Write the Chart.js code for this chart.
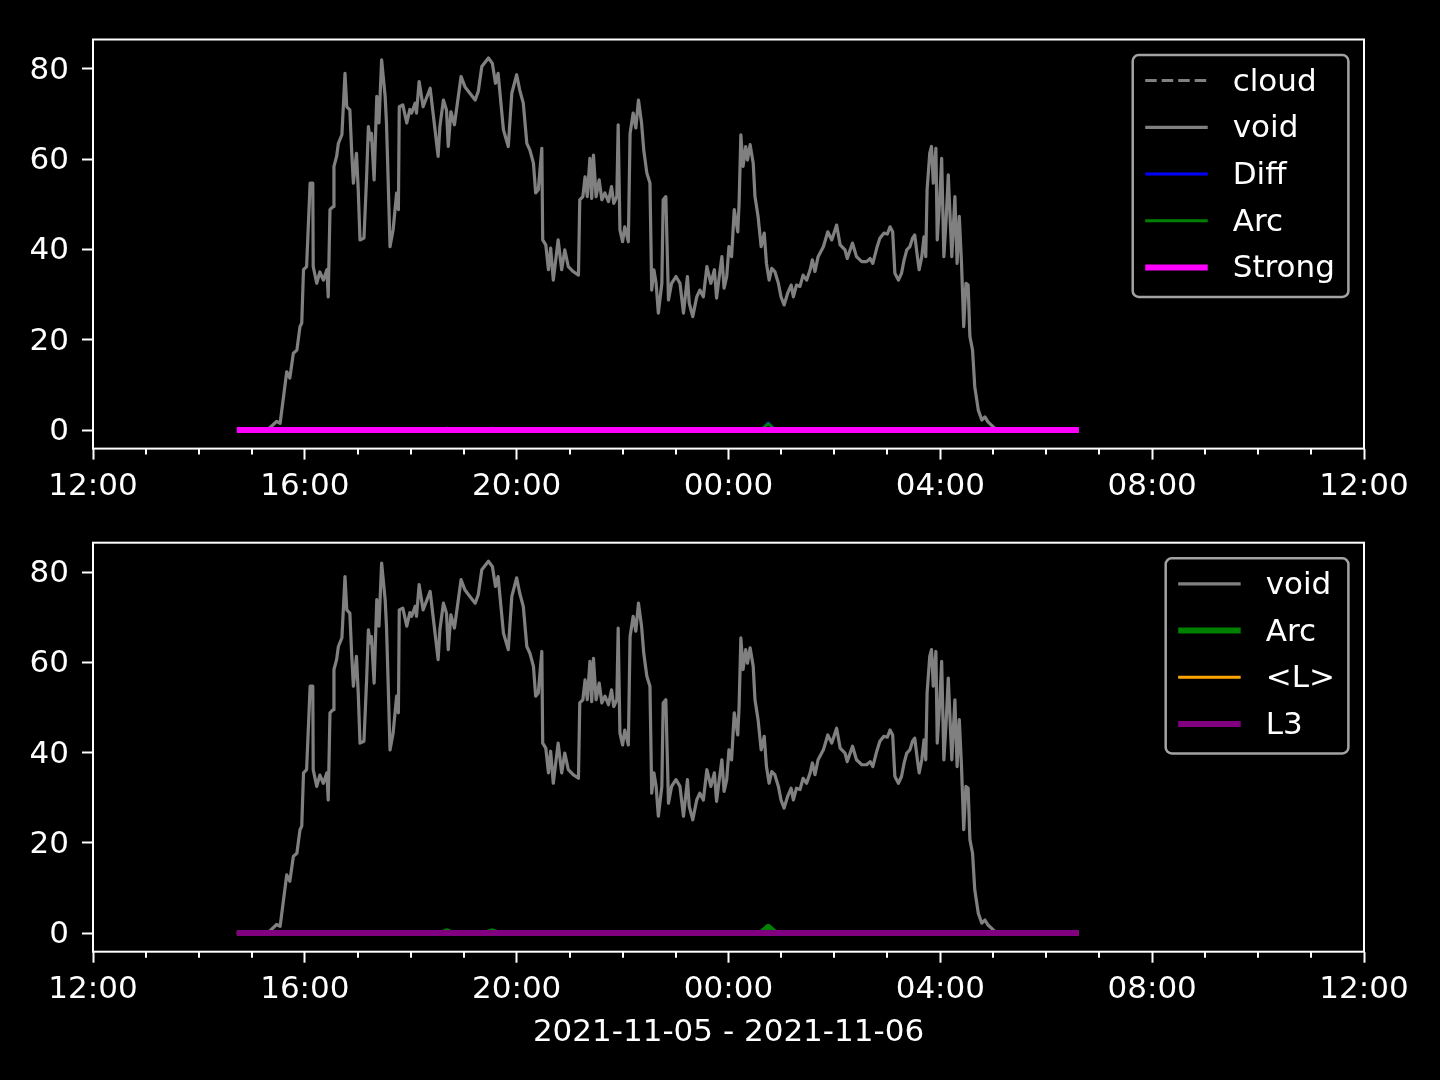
<!DOCTYPE html>
<html><head><meta charset="utf-8">
<script src="https://cdn.jsdelivr.net/npm/chart.js@4.4.0/dist/chart.umd.min.js"></script>
<style>
html,body{margin:0;padding:0;background:#000;}
#wrap{position:relative;width:1440px;height:1080px;background:#000;}
canvas{position:absolute;left:0;top:0;}
</style></head><body>
<div id="wrap"><canvas id="c1" width="1440" height="1080"></canvas><canvas id="c2" width="1440" height="1080"></canvas></div>
<script>
// ---- data (x = minutes after 2021-11-05 12:00) ----
const voidTimes = [163,195,200.5,208,212,219.5,223,227,231,234.5,236.5,238.5,242,246,249,249.5,253.5,257,261,265,266.5,268.5,272,273,276,278,282,285.5,287.5,291,293,295,298.5,300.5,302.5,307,310,312,314,315.5,318.5,321.5,324,327,331,332.5,334.5,336.5,340,344,346,347,351,355.5,359,
361,365,366.5,369.5,374,382,387.5,391,393,397,400.5,402.5,405.5,409.5,417,421.5,427,433,436.5,440.5,448,452.5,456,459,465,470.5,474.5,480,483.5,487.5,491.5,495,499,501.5,504.5,508.5,509.5,513,516,518.5,521.5,
527,531,534.5,538.5,544,550,551.5,555,557.5,560,563,565,567,570,573.5,576.5,580,584,587.5,590,593.5,595,597,600,602.5,606.5,608.5,612,615,618,621.5,624,627.5,631,633,635.5,638,640.5,644.5,646,649,652,655.5,660.5,665,669,673.5,675.5,679.5,684,
687.5,691.5,695.5,700,704,706.5,709,712.5,715,718,720.5,723.5,726.5,730.5,732,734,736.5,739.5,741.5,744.5,748,750,753.5,757,760.5,763,766,769,772.5,776.5,779.5,783,787,791,793.5,797,801,804.5,808.5,812.5,815,818,821.5,827.5,832.5,837,842.5,846.5,
852,854.5,860.5,865,871,876.5,880.5,883.5,888,891.5,896,900,903,906,908.5,912.5,916,919,922,925.5,928.5,931,934,936,939,941.5,943.5,945,948,950,952,955,956.5,959.5,961.5,964,966.5,969,973,976.5,979,981.5,984,986.5,989,991.5,993.5,996.5,999,1003,1007,1010.5,1014,1020,1024,1117];
const voidValues = [0,0,0.5,1.9,1.5,12.9,11.5,17,17.7,22.9,23.7,35.5,36.2,54.7,54.7,36.2,32.5,35,33.2,35.5,29.5,48.8,49.5,58.4,60.6,63.5,65.4,79,71.6,70.9,62,54.7,61.3,53.2,42.1,42.5,56.1,67.2,64.3,65.7,55.4,73.9,68,82,73.9,68,54.7,40.6,44.3,52.5,48.8,71.6,72,68,71,
70.2,72.4,70.2,77.2,71.6,75.7,66.5,60.6,67.2,73.1,70.9,62.8,70.5,67.6,78.3,76,74.6,73.1,75,80.5,82.4,81.2,76.8,79,66.5,62.8,74.6,78.7,75.3,72.4,63.5,62,59.1,52.5,53.2,62.4,42.1,41,35.5,40.3,33.2,
42.1,35.5,39.9,36.2,35.1,34.3,51,51.7,56.1,51.7,60.2,51.3,60.9,51.7,55.4,51,52.5,50.6,53.9,50.2,51.7,67.6,44.3,41.7,45,41.7,65.7,70.2,66.9,73.1,68,62,56.9,54.7,31,35.5,32.5,25.9,32.5,51,51.7,28.8,32.5,34,32.5,25.9,34,28.1,25.1,29.5,
31,29.5,36.2,32.5,35.5,29.2,33.2,38.4,31.4,34,40.6,38.4,48.8,43.9,50.2,65.4,58.4,62.8,59.8,63.2,59.1,51.7,47.3,40.6,43.6,36.9,33.2,35.8,35.1,32.5,29.5,27.7,30.3,32.1,29.5,32.1,31.8,34.3,33.2,35.5,37.7,35.1,38.4,40.6,43.9,42.1,45.4,41,
39.9,38,41.4,38.4,37.3,37.3,38,36.9,40.3,42.5,43.6,43.4,45,43.9,34.7,33.2,34.7,37.7,39.9,40.6,42.5,43.2,38.4,35.5,38.4,42.8,38.4,53.2,61.3,62.8,54.7,62.4,42.1,51.7,60.2,38.4,46.5,56.5,38.4,51.7,36.9,47.3,36.9,22.9,32.5,32.1,20.7,17.7,9.6,4.4,2.2,2.9,1.8,0.7,0,0];
const spanTimes = [163, 1117];
const cloudValues = [0, 0];
const strongValues = [0, 0];
const lAvgValues = [0, 0];
const l3Values = [0, 0];
const diffTimes = [163, 757, 765, 773, 1117];
const diffValues = [0, 0, 1.6, 0, 0];
const arcTimes = [163, 396, 401, 406, 446, 452, 458, 757, 765, 773, 1117];
const arcValues = [0, 0, 0.4, 0, 0, 0.4, 0, 0, 1.4, 0, 0];
const xTickMinutes = [0, 240, 480, 720, 960, 1200, 1440];
const xTickLabels = ['12:00', '16:00', '20:00', '00:00', '04:00', '08:00', '12:00'];
const xMinorStep = 60;
const yTicks = [0, 20, 40, 60, 80];
const xLabel = '2021-11-05 - 2021-11-06';

const pts = (ts, vs) => ts.map((t, i) => ({x: t, y: vs[i]}));
const FAMILY = '"DejaVu Sans", sans-serif';
const FS = 31;

const framePlugin = {
  id: 'frame',
  afterDatasetsDraw(chart) {
    const ctx = chart.ctx, ca = chart.chartArea;
    ctx.save();
    ctx.strokeStyle = '#fff'; ctx.lineWidth = 2;
    ctx.strokeRect(ca.left, ca.top, ca.right - ca.left, ca.bottom - ca.top);
    const xs = chart.scales.x;
    ctx.beginPath();
    for (let m = xs.min; m <= xs.max; m += xMinorStep) {
      if (xTickMinutes.includes(m)) continue;
      const px = Math.round(xs.getPixelForValue(m));
      ctx.moveTo(px, ca.bottom); ctx.lineTo(px, ca.bottom + 6);
    }
    ctx.stroke();
    ctx.restore();
  }
};

const legendPlugin = {
  id: 'mplLegend',
  afterDraw(chart) {
    const ctx = chart.ctx, ca = chart.chartArea, ds = chart.data.datasets;
    ctx.save();
    ctx.font = FS + 'px ' + FAMILY;
    const maxW = Math.max(...ds.map(d => ctx.measureText(d.label).width));
    const pad = 12.5, hl = 62.5, htp = 25;
    const w = pad * 2 + hl + htp + maxW + 1;
    const right = ca.right - 15.6, top = ca.top + 15.6, left = right - w;
    const h = 25.5 + (ds.length - 1) * 46.7 + 29.5;
    const r = 6;
    ctx.beginPath();
    ctx.moveTo(left + r, top); ctx.lineTo(right - r, top); ctx.arcTo(right, top, right, top + r, r);
    ctx.lineTo(right, top + h - r); ctx.arcTo(right, top + h, right - r, top + h, r);
    ctx.lineTo(left + r, top + h); ctx.arcTo(left, top + h, left, top + h - r, r);
    ctx.lineTo(left, top + r); ctx.arcTo(left, top, left + r, top, r);
    ctx.closePath();
    ctx.fillStyle = 'rgba(0,0,0,0.8)'; ctx.fill();
    ctx.strokeStyle = 'rgba(204,204,204,0.8)'; ctx.lineWidth = 2.5; ctx.stroke();
    ds.forEach((d, i) => {
      const y = top + 25.5 + i * 46.7;
      ctx.beginPath();
      ctx.setLineDash(d.borderDash || []);
      ctx.lineWidth = d.borderWidth; ctx.strokeStyle = d.borderColor; ctx.lineCap = 'butt';
      ctx.moveTo(left + pad, y); ctx.lineTo(left + pad + hl, y); ctx.stroke();
      ctx.setLineDash([]);
      ctx.fillStyle = '#fff'; ctx.textBaseline = 'middle'; ctx.textAlign = 'left';
      ctx.fillText(d.label, left + pad + hl + htp, y + 2);
    });
    ctx.restore();
  }
};

function makeChart(id, datasets, areaTop, axisH, title) {
  return new Chart(document.getElementById(id), {
    type: 'line',
    data: {datasets},
    options: {
      responsive: false, animation: false, devicePixelRatio: 1,
      layout: {padding: {left: 0, right: 76, top: areaTop, bottom: 0}},
      plugins: {legend: {display: false}, tooltip: {enabled: false}},
      elements: {point: {radius: 0}, line: {tension: 0, borderJoinStyle: 'round', borderCapStyle: 'butt', fill: false}},
      scales: {
        x: {
          type: 'linear', min: 0, max: 1440,
          afterBuildTicks: s => { s.ticks = xTickMinutes.map(v => ({value: v})); },
          afterFit: s => { s.height = axisH; s.paddingLeft = 0; s.paddingRight = 0; },
          ticks: {color: '#fff', font: {family: FAMILY, size: FS}, padding: 9, maxRotation: 0, autoSkip: false,
                  callback: v => xTickLabels[xTickMinutes.indexOf(v)]},
          grid: {display: true, drawOnChartArea: false, drawTicks: true, tickLength: 11, tickColor: '#fff', tickWidth: 2},
          border: {display: false},
          title: {display: !!title, text: title || '', color: '#fff', font: {family: FAMILY, size: FS}, padding: {top: 0, bottom: 28}}
        },
        y: {
          type: 'linear', min: -4.12, max: 86.5,
          afterBuildTicks: s => { s.ticks = yTicks.map(v => ({value: v})); },
          afterFit: s => { s.width = 93; s.paddingTop = 0; s.paddingBottom = 0; },
          ticks: {color: '#fff', font: {family: FAMILY, size: FS}, padding: 13, labelOffset: 2},
          grid: {display: true, drawOnChartArea: false, drawTicks: true, tickLength: 11, tickColor: '#fff', tickWidth: 2},
          border: {display: false}
        }
      }
    },
    plugins: [framePlugin, legendPlugin]
  });
}

const GREY = '#808080';
makeChart('c1', [
  {label: 'cloud', data: pts(spanTimes, cloudValues), borderColor: GREY, borderWidth: 3, borderDash: [11.5, 5], order: 5},
  {label: 'void', data: pts(voidTimes, voidValues), borderColor: GREY, borderWidth: 3.2, order: 4},
  {label: 'Diff', data: pts(diffTimes, diffValues), borderColor: '#0000ff', borderWidth: 3, order: 3},
  {label: 'Arc', data: pts(arcTimes, arcValues), borderColor: '#008000', borderWidth: 3, order: 2},
  {label: 'Strong', data: pts(spanTimes, strongValues), borderColor: '#ff00ff', borderWidth: 6, order: 1}
], 39.5, 1080 - 448.6, null);

makeChart('c2', [
  {label: 'void', data: pts(voidTimes, voidValues), borderColor: GREY, borderWidth: 3.2, order: 4},
  {label: 'Arc', data: pts(arcTimes, arcValues), borderColor: '#008000', borderWidth: 6, order: 3},
  {label: '<L>', data: pts(spanTimes, lAvgValues), borderColor: '#ffa500', borderWidth: 3, order: 2},
  {label: 'L3', data: pts(spanTimes, l3Values), borderColor: '#800080', borderWidth: 6, order: 1}
], 542.7, 1080 - 951.7, xLabel);
</script>
</body></html>
